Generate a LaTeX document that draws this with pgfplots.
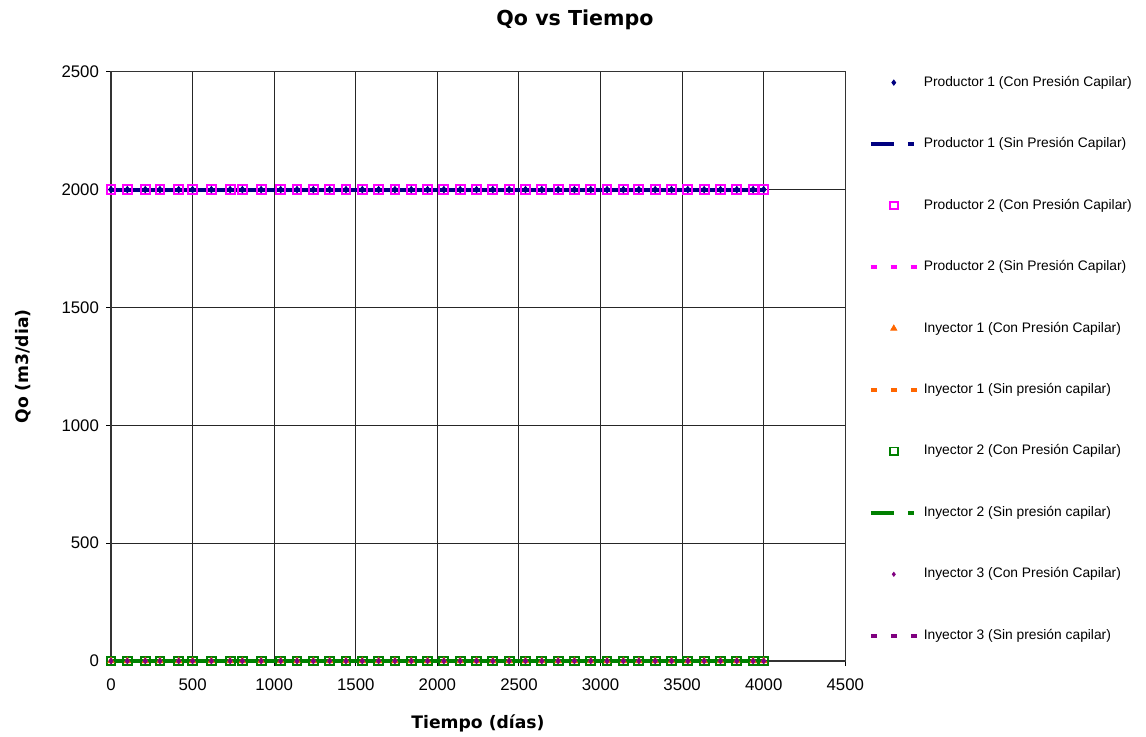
\documentclass[border=0pt]{standalone}
\usepackage{pgfplots}
\pgfplotsset{compat=1.18}
\usepackage{pgfplotstable}
\usepackage{fontspec}
\setmainfont{Liberation Sans}
\newfontfamily\verd{DejaVu Sans}
\definecolor{cnavy}{RGB}{0,0,128}
\definecolor{cmag}{RGB}{255,0,255}
\definecolor{corange}{RGB}{255,102,0}
\definecolor{cgreen}{RGB}{0,128,0}
\definecolor{cpurple}{RGB}{128,0,128}

\pgfplotstableread{
t    p1c  p1s  p2c  p2s  i1c i1s i2c i2s i3c i3s
0    2000 2000 2000 2000 0 0 0 0 0 0
100  2000 2000 2000 2000 0 0 0 0 0 0
210  2000 2000 2000 2000 0 0 0 0 0 0
300  2000 2000 2000 2000 0 0 0 0 0 0
415  2000 2000 2000 2000 0 0 0 0 0 0
500  2000 2000 2000 2000 0 0 0 0 0 0
615  2000 2000 2000 2000 0 0 0 0 0 0
730  2000 2000 2000 2000 0 0 0 0 0 0
805  2000 2000 2000 2000 0 0 0 0 0 0
920  2000 2000 2000 2000 0 0 0 0 0 0
1040 2000 2000 2000 2000 0 0 0 0 0 0
1140 2000 2000 2000 2000 0 0 0 0 0 0
1240 2000 2000 2000 2000 0 0 0 0 0 0
1340 2000 2000 2000 2000 0 0 0 0 0 0
1440 2000 2000 2000 2000 0 0 0 0 0 0
1540 2000 2000 2000 2000 0 0 0 0 0 0
1640 2000 2000 2000 2000 0 0 0 0 0 0
1740 2000 2000 2000 2000 0 0 0 0 0 0
1840 2000 2000 2000 2000 0 0 0 0 0 0
1940 2000 2000 2000 2000 0 0 0 0 0 0
2040 2000 2000 2000 2000 0 0 0 0 0 0
2140 2000 2000 2000 2000 0 0 0 0 0 0
2240 2000 2000 2000 2000 0 0 0 0 0 0
2340 2000 2000 2000 2000 0 0 0 0 0 0
2440 2000 2000 2000 2000 0 0 0 0 0 0
2540 2000 2000 2000 2000 0 0 0 0 0 0
2640 2000 2000 2000 2000 0 0 0 0 0 0
2740 2000 2000 2000 2000 0 0 0 0 0 0
2840 2000 2000 2000 2000 0 0 0 0 0 0
2940 2000 2000 2000 2000 0 0 0 0 0 0
3040 2000 2000 2000 2000 0 0 0 0 0 0
3140 2000 2000 2000 2000 0 0 0 0 0 0
3235 2000 2000 2000 2000 0 0 0 0 0 0
3335 2000 2000 2000 2000 0 0 0 0 0 0
3435 2000 2000 2000 2000 0 0 0 0 0 0
3535 2000 2000 2000 2000 0 0 0 0 0 0
3635 2000 2000 2000 2000 0 0 0 0 0 0
3735 2000 2000 2000 2000 0 0 0 0 0 0
3835 2000 2000 2000 2000 0 0 0 0 0 0
3935 2000 2000 2000 2000 0 0 0 0 0 0
4000 2000 2000 2000 2000 0 0 0 0 0 0
}\datatab

\begin{document}
\begin{tikzpicture}
\path[use as bounding box] (0pt,0pt) rectangle (573pt,-368pt);
\begin{axis}[
  at={(55.5pt,-330.5pt)}, anchor=south west,
  scale only axis, width=367.15pt, height=294.65pt,
  xmin=0, xmax=4500, ymin=0, ymax=2500,
  xtick={0,500,...,4500}, ytick={0,500,...,2500},
  grid=major, grid style={black!85, line width=0.5pt},
  axis line style={black!80, line width=0.6pt},
  tick align=outside, xtick pos=bottom, ytick pos=left,
  major tick length=2.5pt,
  tick style={black, line width=0.5pt},
  ticklabel style={font=\fontsize{8.4}{10}\selectfont},
  xticklabel style={yshift=-3pt},
  /pgf/number format/assume math mode=true,
  /pgf/number format/set thousands separator={},
  legend image code/.code={\draw[mark repeat=2,mark phase=2,#1] plot coordinates {(0pt,0pt)(11.5pt,0pt)(23pt,0pt)};},
  legend style={at={(1.032,0.9927)}, anchor=north west, draw=none, fill=none,
    inner sep=0pt, outer sep=0pt, row sep=24.15pt,
    font=\fontsize{6.9}{8}\selectfont,
    nodes={inner sep=0pt},
    /tikz/every odd column/.append style={column sep=2.5pt}},
  legend cell align=left,
  clip=false,
]
% legend entries
\addlegendimage{only marks, mark=diamond*, cnavy, mark size=1.3pt}
\addlegendentry{Productor 1 (Con Presión Capilar)}
\addlegendimage{cnavy, line width=2pt, dash pattern=on 11.5pt off 7pt on 3pt off 10pt}
\addlegendentry{Productor 1 (Sin Presión Capilar)}
\addlegendimage{only marks, mark=square, cmag, mark size=1.9pt, mark options={line width=0.9pt, fill=white}}
\addlegendentry{Productor 2 (Con Presión Capilar)}
\addlegendimage{cmag, line width=2pt, dash pattern=on 3.33pt off 6.67pt}
\addlegendentry{Productor 2 (Sin Presión Capilar)}
\addlegendimage{only marks, mark=triangle*, corange, mark size=1.7pt}
\addlegendentry{Inyector 1 (Con Presión Capilar)}
\addlegendimage{corange, line width=2pt, dash pattern=on 3.33pt off 6.67pt}
\addlegendentry{Inyector 1 (Sin presión capilar)}
\addlegendimage{only marks, mark=square, cgreen, mark size=1.9pt, mark options={line width=0.9pt, fill=white}}
\addlegendentry{Inyector 2 (Con Presión Capilar)}
\addlegendimage{cgreen, line width=2pt, dash pattern=on 11.5pt off 7pt on 3pt off 10pt}
\addlegendentry{Inyector 2 (Sin presión capilar)}
\addlegendimage{only marks, mark=diamond*, cpurple, mark size=1pt}
\addlegendentry{Inyector 3 (Con Presión Capilar)}
\addlegendimage{cpurple, line width=2pt, dash pattern=on 3.33pt off 6.67pt}
\addlegendentry{Inyector 3 (Sin presión capilar)}
% data: injectors
\addplot[forget plot, cpurple, line width=2pt, dash pattern=on 3.33pt off 6.67pt] table[x=t, y=i3s] {\datatab};
\addplot[forget plot, corange, line width=2pt, dash pattern=on 3.33pt off 6.67pt] table[x=t, y=i1s] {\datatab};
\addplot[forget plot, cgreen, line width=2pt] table[x=t, y=i2s] {\datatab};
\addplot[forget plot, only marks, mark=square, cgreen, mark size=2.2pt, mark options={line width=1pt}] table[x=t, y=i2c] {\datatab};
\addplot[forget plot, only marks, mark=triangle*, corange, mark size=1.8pt] table[x=t, y=i1c] {\datatab};
\addplot[forget plot, only marks, mark=diamond*, cpurple, mark size=1.4pt] table[x=t, y=i3c] {\datatab};
% data: producers
\addplot[forget plot, cmag, line width=2pt, dash pattern=on 3.33pt off 6.67pt] table[x=t, y=p2s] {\datatab};
\addplot[forget plot, cnavy, line width=2pt] table[x=t, y=p1s] {\datatab};
\addplot[forget plot, only marks, mark=square, cmag, mark size=2.2pt, mark options={line width=1pt}] table[x=t, y=p2c] {\datatab};
\addplot[forget plot, only marks, mark=diamond*, cnavy, mark size=1.6pt] table[x=t, y=p1c] {\datatab};
\end{axis}
\node[font=\verd\bfseries\fontsize{10.3}{12}\selectfont] at (287.5pt,-10pt) {Qo vs Tiempo};
\node[font=\verd\bfseries\fontsize{8.6}{10}\selectfont] at (239pt,-361.5pt) {Tiempo (días)};
\node[font=\verd\bfseries\fontsize{8.6}{10}\selectfont, rotate=90] at (11.75pt,-183.25pt) {Qo (m3/dia)};
\end{tikzpicture}
\end{document}
